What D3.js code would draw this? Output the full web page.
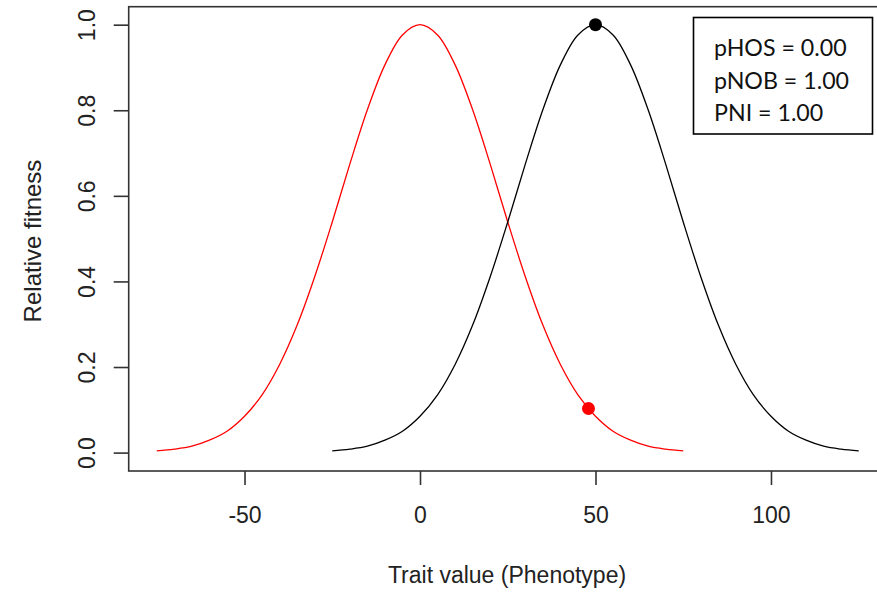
<!DOCTYPE html>
<html>
<head>
<meta charset="utf-8">
<script src="https://cdn.jsdelivr.net/npm/d3@7/dist/d3.min.js"></script>
<style>
  body { margin: 0; background: #fff; }
  svg { display: block; }
</style>
</head>
<body>
<div id="chart"></div>
<script>
// values
var redTrait = [-75, -70, -65, -60, -55, -50, -45, -40, -35, -30, -25, -20, -15, -10, -5, 0,
	5, 10, 15, 20, 25, 30, 35, 40, 45, 50, 55, 60, 65, 70, 75];
var redFitness = [0.004, 0.008, 0.015, 0.029, 0.050, 0.085, 0.135, 0.206, 0.298, 0.411, 0.539,
	0.674, 0.801, 0.906, 0.976, 1.000, 0.976, 0.906, 0.801, 0.674, 0.539, 0.411, 0.298, 0.206,
	0.135, 0.085, 0.050, 0.029, 0.015, 0.008, 0.004];

var blackTrait = [-25, -20, -15, -10, -5, 0, 5, 10, 15, 20, 25, 30, 35, 40, 45, 50,
	55, 60, 65, 70, 75, 80, 85, 90, 95, 100, 105, 110, 115, 120, 125];
var blackFitness = [0.004, 0.008, 0.015, 0.029, 0.050, 0.085, 0.135, 0.206, 0.298, 0.411, 0.539,
	0.674, 0.801, 0.906, 0.976, 1.000, 0.976, 0.906, 0.801, 0.674, 0.539, 0.411, 0.298, 0.206,
	0.135, 0.085, 0.050, 0.029, 0.015, 0.008, 0.004];

var redPoint = {x: 48, y: 0.103};
var blackPoint = {x: 50, y: 1.0};

var xTicks = [-50, 0, 50, 100];
var yTicks = [0, 0.2, 0.4, 0.6, 0.8, 1.0];
var legendLines = ['pHOS = 0.00', 'pNOB = 1.00', 'PNI = 1.00'];

window.onload = function(){
	var svg = d3.select('#chart').append('svg').attr('width', 877).attr('height', 592);

	var x = d3.scaleLinear().domain([-83, 133]).range([128.7, 886.8]);
	var y = d3.scaleLinear().domain([-0.043, 1.042]).range([471, 6.7]);

	var axisColor = '#333';
	var font = '"Liberation Sans", Arial, sans-serif';

	// plot box
	svg.append('rect')
		.attr('x', x(-83)).attr('y', y(1.042))
		.attr('width', x(133) - x(-83)).attr('height', y(-0.043) - y(1.042))
		.attr('fill', 'none').attr('stroke', axisColor).attr('stroke-width', 1.6);

	// x axis
	var xAxis = d3.axisBottom(x).tickValues(xTicks).tickSize(14).tickPadding(0).tickFormat(d3.format('d'));
	var gx = svg.append('g').attr('transform', 'translate(0,471)').call(xAxis);
	gx.select('.domain').remove();
	gx.selectAll('line').attr('stroke', axisColor).attr('stroke-width', 1.6);
	gx.selectAll('text').attr('y', 52).attr('dy', null)
		.attr('font-family', font).attr('font-size', 23).attr('fill', '#222')
		.text(function(d){ return d < 0 ? '-' + Math.abs(d) : d; });

	// y axis
	var yAxis = d3.axisLeft(y).tickValues(yTicks).tickSize(15).tickFormat(d3.format('.1f'));
	var gy = svg.append('g').attr('transform', 'translate(128.7,0)').call(yAxis);
	gy.select('.domain').remove();
	gy.selectAll('line').attr('stroke', axisColor).attr('stroke-width', 1.6);
	gy.selectAll('text')
		.attr('x', null).attr('dy', null)
		.attr('transform', 'translate(-34,0) rotate(-90)')
		.attr('text-anchor', 'middle')
		.attr('font-family', font).attr('font-size', 23).attr('fill', '#222');

	// axis titles
	svg.append('text')
		.attr('x', 507).attr('y', 583)
		.attr('text-anchor', 'middle')
		.attr('font-family', font).attr('font-size', 23).attr('fill', '#222')
		.text('Trait value (Phenotype)');

	svg.append('text')
		.attr('transform', 'translate(41,241) rotate(-90)')
		.attr('text-anchor', 'middle')
		.attr('font-family', font).attr('font-size', 24).attr('fill', '#222')
		.text('Relative fitness');

	// curves
	var line = d3.line()
		.x(function(d){ return x(d[0]); })
		.y(function(d){ return y(d[1]); })
		.curve(d3.curveCatmullRom);

	svg.append('path')
		.datum(d3.zip(redTrait, redFitness))
		.attr('d', line)
		.attr('fill', 'none').attr('stroke', '#ff0000').attr('stroke-width', 1.3);

	svg.append('path')
		.datum(d3.zip(blackTrait, blackFitness))
		.attr('d', line)
		.attr('fill', 'none').attr('stroke', '#000').attr('stroke-width', 1.3);

	svg.append('circle')
		.attr('cx', x(redPoint.x)).attr('cy', y(redPoint.y)).attr('r', 6.5)
		.attr('fill', '#ff0000');
	svg.append('circle')
		.attr('cx', x(blackPoint.x)).attr('cy', y(blackPoint.y)).attr('r', 6.5)
		.attr('fill', '#000');

	// legend box
	var lg = svg.append('g');
	lg.append('rect')
		.attr('x', 693.5).attr('y', 17.5).attr('width', 179).attr('height', 116.5)
		.attr('fill', '#fff').attr('stroke', '#000').attr('stroke-width', 1.6);
	lg.selectAll('text').data(legendLines).enter().append('text')
		.attr('x', 714)
		.attr('y', function(d, i){ return 56 + i * 32.5; })
		.attr('font-family', 'Lato, "Open Sans", sans-serif').attr('font-size', 23.2).attr('fill', '#111')
		.text(function(d){ return d; });
}
</script>
</body>
</html>
